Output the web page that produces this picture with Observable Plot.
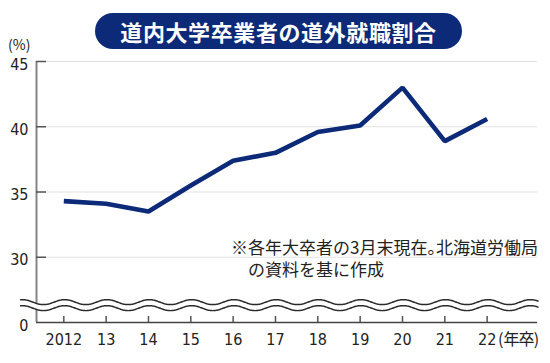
<!DOCTYPE html>
<html><head><meta charset="utf-8">
<script src="https://cdn.jsdelivr.net/npm/d3@7"></script>
<script src="https://cdn.jsdelivr.net/npm/@observablehq/plot@0.6"></script>
<style>
body{margin:0;background:#fff;}
#wrap{position:relative;width:550px;height:363px;overflow:hidden;font-family:"Noto Sans CJK JP","Noto Sans",sans-serif;color:#222;}
#chart{position:absolute;left:0;top:0;}
#title{position:absolute;left:95px;top:13px;width:367px;height:36px;border-radius:18px;background:#0c2a78;color:#fff;font-weight:700;font-size:22px;letter-spacing:0.6px;line-height:36px;text-align:center;white-space:nowrap;}
#unit{position:absolute;left:8px;top:35px;font-size:14px;line-height:18px;}
#xunit{position:absolute;left:498px;top:328px;font-family:"Liberation Sans Narrow","Noto Sans CJK JP",sans-serif;font-size:16px;line-height:20px;white-space:nowrap;}
#xunit .k{font-family:"Noto Sans CJK JP",sans-serif;letter-spacing:-0.8px;}
#note{position:absolute;left:231px;top:236px;font-size:17px;line-height:21.5px;white-space:nowrap;}
#note .l2{padding-left:1em;}
#note .h{font-feature-settings:"halt";}
</style></head>
<body>
<div id="wrap">
  <div id="chart"></div>
  <div id="title">道内大学卒業者の道外就職割合</div>
  <div id="unit">(%)</div>
  <div id="xunit">(<span class="k">年卒</span>)</div>
  <div id="note"><div>※各年大卒者の3月末現在<span class="h">。</span>北海道労働局</div><div class="l2">の資料を基に作成</div></div>
</div>
<script>
const years = [2012, 2013, 2014, 2015, 2016, 2017, 2018, 2019, 2020, 2021, 2022];
const yearLabels = ["2012", "13", "14", "15", "16", "17", "18", "19", "20", "21", "22"];
const shares = [34.3, 34.1, 33.5, 35.5, 37.4, 38.0, 39.6, 40.1, 43.0, 38.9, 40.6];
// 25 stands for the broken-axis position labelled "0"
const yTicks = [25, 30, 35, 40, 45];
const yTickLabels = ["0", "30", "35", "40", "45"];
const gridValues = [30, 35, 40, 45];

const data = years.map((y, i) => ({year: y, share: shares[i]}));

const xDomain = [2011.355, 2023.26];
const xEnd = 2023.19;
// axis-break decoration (wavy double line)
const wave = d3.range(2010.98, 2023.2, 0.02).map(x => {
  const s = 0.19 * Math.cos(2 * Math.PI * (x - 0.02));
  return {x, hi: 26.56 + s, lo: 26.1 + s};
});

const font = '"Liberation Sans Narrow","DejaVu Sans Condensed","Noto Sans",sans-serif';

const plot = Plot.plot({
  width: 550, height: 363,
  marginTop: 61, marginBottom: 41, marginLeft: 36, marginRight: 10,
  x: {domain: xDomain},
  y: {domain: [25, 45]},
  style: {fontFamily: font, fontSize: "16px", color: "#222", background: "transparent"},
  marks: [
    Plot.ruleY(gridValues, {x1: xDomain[0], x2: xEnd, stroke: "#e2e2e2", strokeWidth: 1}),
    Plot.ruleX([xDomain[0]], {y1: 25, y2: 45, stroke: "#858585", strokeWidth: 2}),
    Plot.tickY(gridValues, {y: d => d, insetRight: 494, stroke: "#555", strokeWidth: 1.5}),
    Plot.tickX(years, {x: d => d, insetTop: 255, stroke: "#555", strokeWidth: 1.5}),
    Plot.ruleY([25], {x1: xDomain[0], x2: xEnd, stroke: "#444", strokeWidth: 1.5}),
    Plot.areaY(wave, {x: "x", y1: "lo", y2: "hi", fill: "white"}),
    Plot.line(wave, {x: "x", y: "hi", stroke: "#2a2a2a", strokeWidth: 1.5}),
    Plot.line(wave, {x: "x", y: "lo", stroke: "#2a2a2a", strokeWidth: 1.5}),
    Plot.line(data, {x: "year", y: "share", stroke: "#0c2a78", strokeWidth: 4.6, strokeLinejoin: "miter", strokeLinecap: "butt"}),
    Plot.axisX({ticks: years, tickFormat: d => yearLabels[years.indexOf(d)], tickSize: 0, tickPadding: 11, stroke: null}),
    Plot.axisY({ticks: yTicks, tickFormat: d => yTickLabels[yTicks.indexOf(d)], tickSize: 0, tickPadding: 8, dy: 3, stroke: null})
  ]
});
document.getElementById("chart").appendChild(plot);
</script>
</body></html>
